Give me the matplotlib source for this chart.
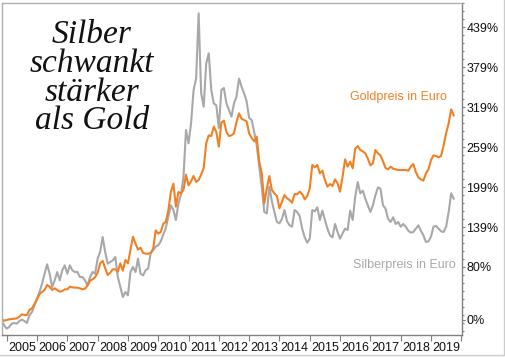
import numpy as np
import matplotlib
matplotlib.use("Agg")
import matplotlib.pyplot as plt
from matplotlib.lines import Line2D

# Monthly values, change vs. start (in %), Nov 2004 .. Oct 2019
start_year = 2004 + 10 / 12
gold = [1.5, -1, 0, 1, 1.5, 2, 2.5, 5, 8.5, 7.5, 7.5, 15, 17.5, 24, 31, 39, 42, 45, 52.5, 50,
        45, 47.5, 45, 42.5, 43.5, 46, 46, 50, 49, 48.5, 48.5, 47.5, 46, 47, 51.5, 59, 61, 64, 71, 85,
        88.5, 77.5, 67.5, 71, 76, 76, 72.5, 85, 74, 90, 85, 105, 125, 114.5, 105.5, 108.5, 100.5, 99.5, 99.5, 100.5,
        107, 134.5, 129.5, 132, 144.5, 147, 164.5, 192, 204.5, 170, 192, 190, 195, 218, 202, 208, 216, 207, 210, 218,
        228, 265, 277, 276, 290, 282, 260, 296, 299, 282, 276, 277, 280, 297, 310, 302, 300, 298, 280, 273,
        268, 275, 237.5, 220, 175, 197.5, 216, 195, 190, 186, 167.5, 177.5, 187.5, 182.5, 180, 176, 189, 188.5, 192.5, 189,
        181, 186, 197.5, 232.5, 229, 232.5, 220, 224, 210, 200, 204, 201, 211, 205, 192.5, 215, 241, 230, 237.5, 227.5,
        257, 261, 255, 253, 250, 242, 232, 235, 255, 250, 247, 238, 228, 226, 230, 227, 226, 225, 225, 225,
        225, 224, 230, 234, 222, 214, 211, 209, 220, 226, 240, 247, 246, 244, 246, 262, 280, 295, 316, 307]
silver = [-0.5, -8, -13, -10.5, -5.5, -4.5, -5.5, -1.5, 0.5, -1.5, -4.5, 7, 12, 22, 32, 42, 54.5, 69.5, 83.5, 69.5,
          49.5, 59.5, 72, 59.5, 74.5, 82, 69.5, 82, 74.5, 72, 72, 64.5, 64.5, 59.5, 52, 64.5, 72, 69.5, 92, 102,
          124.5, 102, 84.5, 87, 89.5, 94.5, 64.5, 49.5, 34.5, 42, 37, 72, 79.5, 72, 92, 69.5, 67, 74.5, 77, 100,
          105, 110, 112, 118, 128, 138, 155, 172, 165, 150, 175, 188, 215, 285, 265, 295, 345, 362, 460, 340,
          320, 385, 400, 345, 325, 322, 288, 345, 348, 325, 315, 305, 325, 335, 362, 350, 340, 328, 303, 300,
          282, 262, 230, 200, 162, 160, 200, 178, 162, 147, 145, 152, 165, 148, 142, 140, 165, 162, 156, 137,
          124, 116, 122, 165, 163, 169, 150, 164, 150, 137, 127, 124, 144, 132, 122, 130, 137, 135, 164, 150,
          185, 207, 190, 194, 182, 172, 162, 172, 187, 199, 197, 172, 167, 152, 147, 154, 144, 147, 140, 144,
          140, 134, 131, 132, 137, 142, 134, 127, 117, 118, 125, 140, 141, 137, 133, 132, 140, 162, 190, 182]
years = list(range(2005, 2020))
ytick_vals = [0, 80, 139, 199, 259, 319, 379, 439]
ytick_labels = ["0%", "80%", "139%", "199%", "259%", "319%", "379%", "439%"]
title_text = "Silber\nschwankt\nstärker\nals Gold"
gold_label = "Goldpreis in Euro"
silver_label = "Silberpreis in Euro"

ORANGE = "#F28022"
GRAY = "#A8A8A8"

x = start_year + np.arange(len(gold)) / 12.0

W, H = 506, 357
fig = plt.figure(figsize=(W / 100, H / 100), dpi=100)
ax = fig.add_axes([2 / W, (H - 335) / H, 460.5 / W, 332 / H])

ax.plot(x, silver, color=GRAY, lw=1.5, solid_joinstyle="round")
ax.plot(x, gold, color=ORANGE, lw=1.5, solid_joinstyle="round")

ax.set_xlim(2004.845, 2020.04)
ax.set_ylim(-22.5, 475.5)

# spines
for s in ["top", "left"]:
    ax.spines[s].set_color("#B0B0B0")
    ax.spines[s].set_linewidth(1.0)
for s in ["right", "bottom"]:
    ax.spines[s].set_color("#808080")
    ax.spines[s].set_linewidth(1.0)

# y axis on the right
ax.yaxis.tick_right()
ax.set_yticks(ytick_vals)
ax.set_yticklabels(ytick_labels)
ax.set_yticks(np.arange(139 - 12 * 13, 476, 12), minor=True)
ax.tick_params(axis="y", which="major", length=2, width=0.8, color="#808080", pad=0.8,
               labelsize=9, labelcolor="#111111")
ax.tick_params(axis="y", which="minor", length=1.5, width=0.8, color="#808080")
ax.tick_params(axis="y", left=False, which="both")

# x axis: ticks at year boundaries, labels centred in between
ax.set_xticks([y for y in range(2005, 2021)])
ax.set_xticklabels([])
ax.set_xticks([y + 0.5 for y in years], minor=True)
ax.set_xticklabels([str(y) for y in years], minor=True)
ax.tick_params(axis="x", which="major", length=4, width=0.8, color="#808080")
ax.tick_params(axis="x", which="minor", length=0, pad=5, labelsize=9, labelcolor="#111111")

for lab in ax.get_xticklabels(minor=True) + ax.get_yticklabels():
    lab.set_family("Liberation Sans")

# annotations
ax.text(2019.53, 334, gold_label, color=ORANGE, fontsize=9, family="Liberation Sans",
        ha="right", va="center")
ax.text(2019.83, 82, silver_label, color=GRAY, fontsize=9, family="Liberation Sans",
        ha="right", va="center")

fig.text(92 / W, 1 - 78 / H, title_text, fontsize=24, family="Liberation Serif", style="italic",
         ha="center", va="center", multialignment="center", linespacing=0.92, color="#111111")

# outer frame of the picture
fig.add_artist(Line2D([504 / W, 504 / W], [2 / H, 1], transform=fig.transFigure, color="#CCCCCC", lw=1))
fig.add_artist(Line2D([0, 504 / W], [2 / H, 2 / H], transform=fig.transFigure, color="#CCCCCC", lw=1))

fig.savefig("out.png", dpi=100)
